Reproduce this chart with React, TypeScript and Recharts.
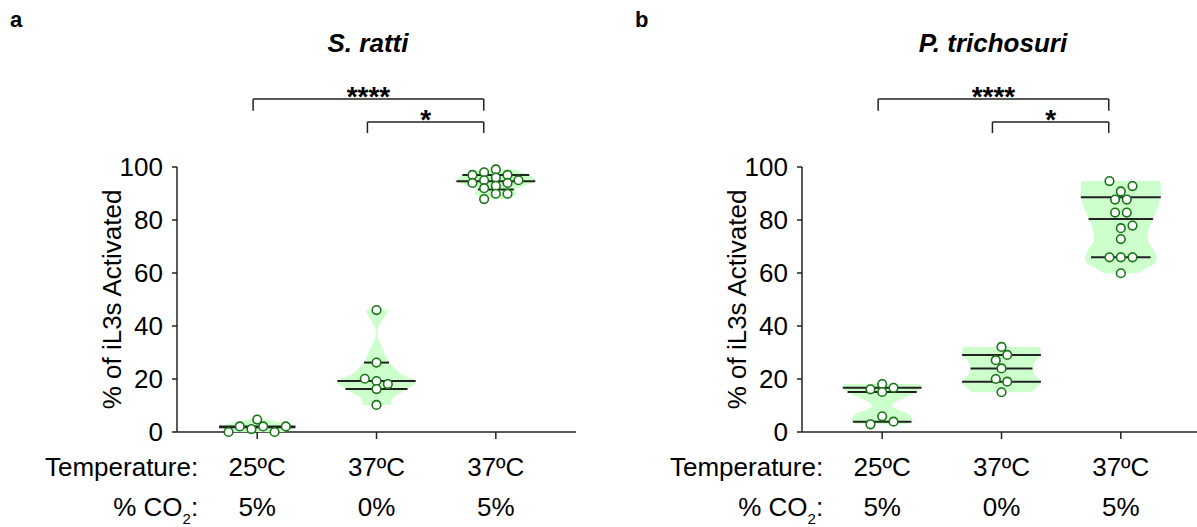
import React from 'react';
import { ComposedChart, Scatter, XAxis, YAxis, ReferenceLine } from 'recharts';

// conditions, shared by both panels
const categories = [1, 2, 3];
const tempLabels = ['25ºC', '37ºC', '37ºC'];
const co2Labels = ['5%', '0%', '5%'];
const yTicks = [0, 20, 40, 60, 80, 100];

// dots: [x jitter (category units), % activated]
const rattiDots1 = [[-0.24, 0], [-0.146, 2.1], [-0.048, 1.1], [0, 4.7], [0.05, 2.1], [0.146, 0], [0.24, 2.1]];
const rattiDots2 = [[0, 46], [0, 26.2], [-0.098, 20.1], [0, 19.2], [0.095, 18.1], [0, 16.2], [0, 10.2]];
const rattiDots3 = [
  [0, 99.1], [-0.098, 98], [-0.196, 97], [0.098, 97], [0, 96], [-0.098, 95], [0.19, 95],
  [-0.196, 94], [0.098, 94], [0, 92.9], [-0.098, 92], [0, 89.9], [0.098, 89.9], [-0.098, 87.9],
];
const trichDots1 = [[0, 18.1], [-0.098, 16.1], [0.095, 16.7], [0, 15.1], [0, 5.9], [0.095, 3.9], [-0.098, 2.9]];
const trichDots2 = [[0, 32.1], [0.048, 29.1], [-0.048, 27.1], [0, 24], [-0.048, 20], [0.048, 19], [0, 15]];
const trichDots3 = [
  [-0.095, 94.7], [0.098, 92.8], [0, 90.8], [-0.048, 87.7], [0.05, 87.7], [-0.048, 82.8], [0.05, 82.8],
  [0.098, 77.9], [0, 76.9], [0, 72.8], [-0.095, 65.9], [0, 65.9], [0.098, 65.9], [0, 59.9],
];

// violin outline: [value, half width (category units)], top to bottom
const rattiShape1 = [[4.7, 0.07], [4, 0.15], [3, 0.25], [2, 0.3], [1, 0.28], [0, 0.22]];
const rattiShape2 = [
  [46, 0.095], [43, 0.06], [40, 0.02], [38, 0.008], [36, 0.008], [33, 0.035], [30, 0.065],
  [26.2, 0.11], [22, 0.2], [19.2, 0.33], [16.2, 0.26], [13, 0.14], [10.2, 0.12],
];
const rattiShape3 = [
  [99.1, 0.15], [98, 0.22], [97, 0.28], [95.8, 0.32], [94.6, 0.34], [93.2, 0.26],
  [91.5, 0.16], [90, 0.18], [88.8, 0.14], [87.9, 0.08],
];
const trichShape1 = [
  [18.1, 0.32], [16.7, 0.33], [15.1, 0.29], [13.5, 0.22], [12, 0.14], [10, 0.08],
  [8.5, 0.13], [7, 0.21], [5.5, 0.25], [3.9, 0.25], [2.9, 0.19],
];
const trichShape2 = [[32.1, 0.32], [30.5, 0.33], [29.1, 0.33], [26.5, 0.28], [24, 0.26], [21.5, 0.28], [19, 0.33], [17, 0.3], [15, 0.25]];
const trichShape3 = [
  [94.7, 0.33], [92, 0.335], [88.6, 0.335], [85, 0.31], [80.4, 0.27], [76, 0.23],
  [72, 0.23], [69, 0.27], [66, 0.3], [63.5, 0.28], [61.5, 0.2], [59.9, 0.14],
];

// median / quartile lines: [value, half width]
const rattiLines1 = [[2.1, 0.32], [1.8, 0.32]];
const rattiLines2 = [[26.2, 0.105], [19.2, 0.328], [16.2, 0.26]];
const rattiLines3 = [[97, 0.28], [94.6, 0.33], [91.5, 0.15]];
const trichLines1 = [[16.7, 0.33], [15.1, 0.29], [3.9, 0.245]];
const trichLines2 = [[29.1, 0.33], [24, 0.26], [19, 0.33]];
const trichLines3 = [[88.6, 0.335], [80.4, 0.27], [65.9, 0.25]];

// significance brackets: x from, x to, height, drop, label
const brackets = [
  { from: 0.966, to: 2.899, y: 125.7, drop: 4.5, label: '****' },
  { from: 1.924, to: 2.899, y: 117, drop: 4.2, label: '*' },
];

const panels = [
  { letter: 'a', title: 'S. ratti', left: 0, dots: [rattiDots1, rattiDots2, rattiDots3], shapes: [rattiShape1, rattiShape2, rattiShape3], lines: [rattiLines1, rattiLines2, rattiLines3] },
  { letter: 'b', title: 'P. trichosuri', left: 625, dots: [trichDots1, trichDots2, trichDots3], shapes: [trichShape1, trichShape2, trichShape3], lines: [trichLines1, trichLines2, trichLines3] },
];

const FONT = '"Liberation Sans", Arial, sans-serif';
const VIOLIN = '#ccffcc';
const DOT = '#177417';
const INK = '#222';

function smooth(p: any[]) {
  let s = '';
  for (let i = 0; i < p.length - 1; i++) {
    const p0 = p[Math.max(0, i - 1)], p1 = p[i], p2 = p[i + 1], p3 = p[Math.min(p.length - 1, i + 2)];
    const c1x = p1.x + (p2.x - p0.x) / 6, c1y = p1.y + (p2.y - p0.y) / 6;
    const c2x = p2.x - (p3.x - p1.x) / 6, c2y = p2.y - (p3.y - p1.y) / 6;
    s += ` C${c1x},${c1y} ${c2x},${c2y} ${p2.x},${p2.y}`;
  }
  return s;
}

function violinLine(props: any) {
  const pts = (props.points || []).filter((p: any) => p.x != null && p.y != null);
  if (pts.length < 4) return <g />;
  const n = pts.length / 2;
  const left = pts.slice(0, n), right = pts.slice(n);
  const d = `M${left[0].x},${left[0].y}` + smooth(left) + ` L${right[0].x},${right[0].y}` + smooth(right) + ' Z';
  return <path d={d} fill={VIOLIN} stroke="none" />;
}

function statLine(props: any) {
  const pts = (props.points || []).filter((p: any) => p.x != null && p.y != null);
  if (pts.length < 2) return <g />;
  return <line x1={pts[0].x} y1={pts[0].y} x2={pts[1].x} y2={pts[1].y} stroke={INK} strokeWidth={2} />;
}

const outline = (cat: number, shape: number[][]) => [
  ...shape.map(([v, hw]) => ({ x: cat - hw, y: v })),
  ...shape.slice().reverse().map(([v, hw]) => ({ x: cat + hw, y: v })),
];
const dotData = (cat: number, dots: number[][]) => dots.map(([dx, v]) => ({ x: cat + dx, y: v }));

function CondTick(props: any) {
  const { x, y, index } = props;
  const t = { fontSize: 26, fill: '#000', fontFamily: FONT };
  return (
    <g>
      <text x={x} y={y + 35} textAnchor="middle" {...t}>{tempLabels[index]}</text>
      <text x={x} y={y + 75} textAnchor="middle" {...t}>{co2Labels[index]}</text>
      {index === 0 && (
        <>
          <text x={x - 59} y={y + 35} textAnchor="end" {...t}>Temperature:</text>
          <text x={x - 59} y={y + 75} textAnchor="end" {...t}>
            % CO<tspan dy={8} fontSize={15}>2</tspan><tspan dy={-8}>:</tspan>
          </text>
        </>
      )}
    </g>
  );
}

const noShape = () => <g />;
const dotShape = (p: any) => <circle cx={p.cx} cy={p.cy} r={4.3} fill="#fff" stroke={DOT} strokeWidth={1.6} />;

function Panel({ panel }: { panel: any }) {
  return (
    <div style={{ position: 'absolute', left: panel.left, top: 0 }}>
      <ComposedChart width={598} height={527} margin={{ top: 167, right: 22, bottom: 65, left: 0 }}>
        <XAxis
          type="number"
          dataKey="x"
          domain={[0.328, 3.672]}
          ticks={categories}
          interval={0}
          allowDataOverflow
          height={30}
          tickSize={7}
          tick={<CondTick />}
          axisLine={{ stroke: INK, strokeWidth: 1.5 }}
          tickLine={{ stroke: INK, strokeWidth: 1.5 }}
        />
        <YAxis
          type="number"
          dataKey="y"
          domain={[0, 100]}
          ticks={yTicks}
          interval={0}
          width={177}
          tickSize={5}
          tickMargin={9}
          tick={{ fontSize: 26, fill: '#000', fontFamily: FONT }}
          axisLine={{ stroke: INK, strokeWidth: 1.5 }}
          tickLine={{ stroke: INK, strokeWidth: 1.5 }}
          label={{ value: '% of iL3s Activated', angle: -90, position: 'insideLeft', offset: 112, fontSize: 26, fill: '#000', fontFamily: FONT, style: { textAnchor: 'middle' } }}
        />
        {categories.map((c, i) => (
          <Scatter key={'v' + i} data={outline(c, panel.shapes[i])} line={violinLine} lineType="joint" shape={noShape} isAnimationActive={false} />
        ))}
        {categories.map((c, i) =>
          panel.lines[i].map(([v, hw]: number[], j: number) => (
            <Scatter key={`l${i}-${j}`} data={[{ x: c - hw, y: v }, { x: c + hw, y: v }]} line={statLine} lineType="joint" shape={noShape} isAnimationActive={false} />
          ))
        )}
        {brackets.map((b, i) => (
          <ReferenceLine key={'b' + i} segment={[{ x: b.from, y: b.y }, { x: b.to, y: b.y }]} stroke={INK} strokeWidth={1.5} ifOverflow="visible"
            label={{ value: b.label, position: 'center', dy: -3, fontSize: 28, fontWeight: 'bold', fill: '#000', fontFamily: FONT }} />
        ))}
        {brackets.map((b, i) => (
          <ReferenceLine key={'bl' + i} segment={[{ x: b.from, y: b.y }, { x: b.from, y: b.y - b.drop }]} stroke={INK} strokeWidth={1.5} ifOverflow="visible" />
        ))}
        {brackets.map((b, i) => (
          <ReferenceLine key={'br' + i} segment={[{ x: b.to, y: b.y }, { x: b.to, y: b.y - b.drop }]} stroke={INK} strokeWidth={1.5} ifOverflow="visible" />
        ))}
        {categories.map((c, i) => (
          <Scatter key={'d' + i} data={dotData(c, panel.dots[i])} shape={dotShape} isAnimationActive={false} />
        ))}
      </ComposedChart>
    </div>
  );
}

export default function App() {
  return (
    <div style={{ position: 'absolute', left: 0, top: 0, width: 1197, height: 527, overflow: 'hidden', background: '#fff', fontFamily: FONT }}>
      {panels.map((p) => (
        <Panel key={p.letter} panel={p} />
      ))}
      <svg width={1197} height={527} style={{ position: 'absolute', left: 0, top: 0, pointerEvents: 'none' }}>
        {panels.map((p) => (
          <g key={p.letter} fontFamily={FONT} fill="#000">
            <text x={p.left + 10} y={27} fontSize={22} fontWeight="bold">{p.letter}</text>
            <text x={p.left + 368} y={52} fontSize={26} fontWeight="bold" fontStyle="italic" textAnchor="middle">{p.title}</text>
          </g>
        ))}
      </svg>
    </div>
  );
}
